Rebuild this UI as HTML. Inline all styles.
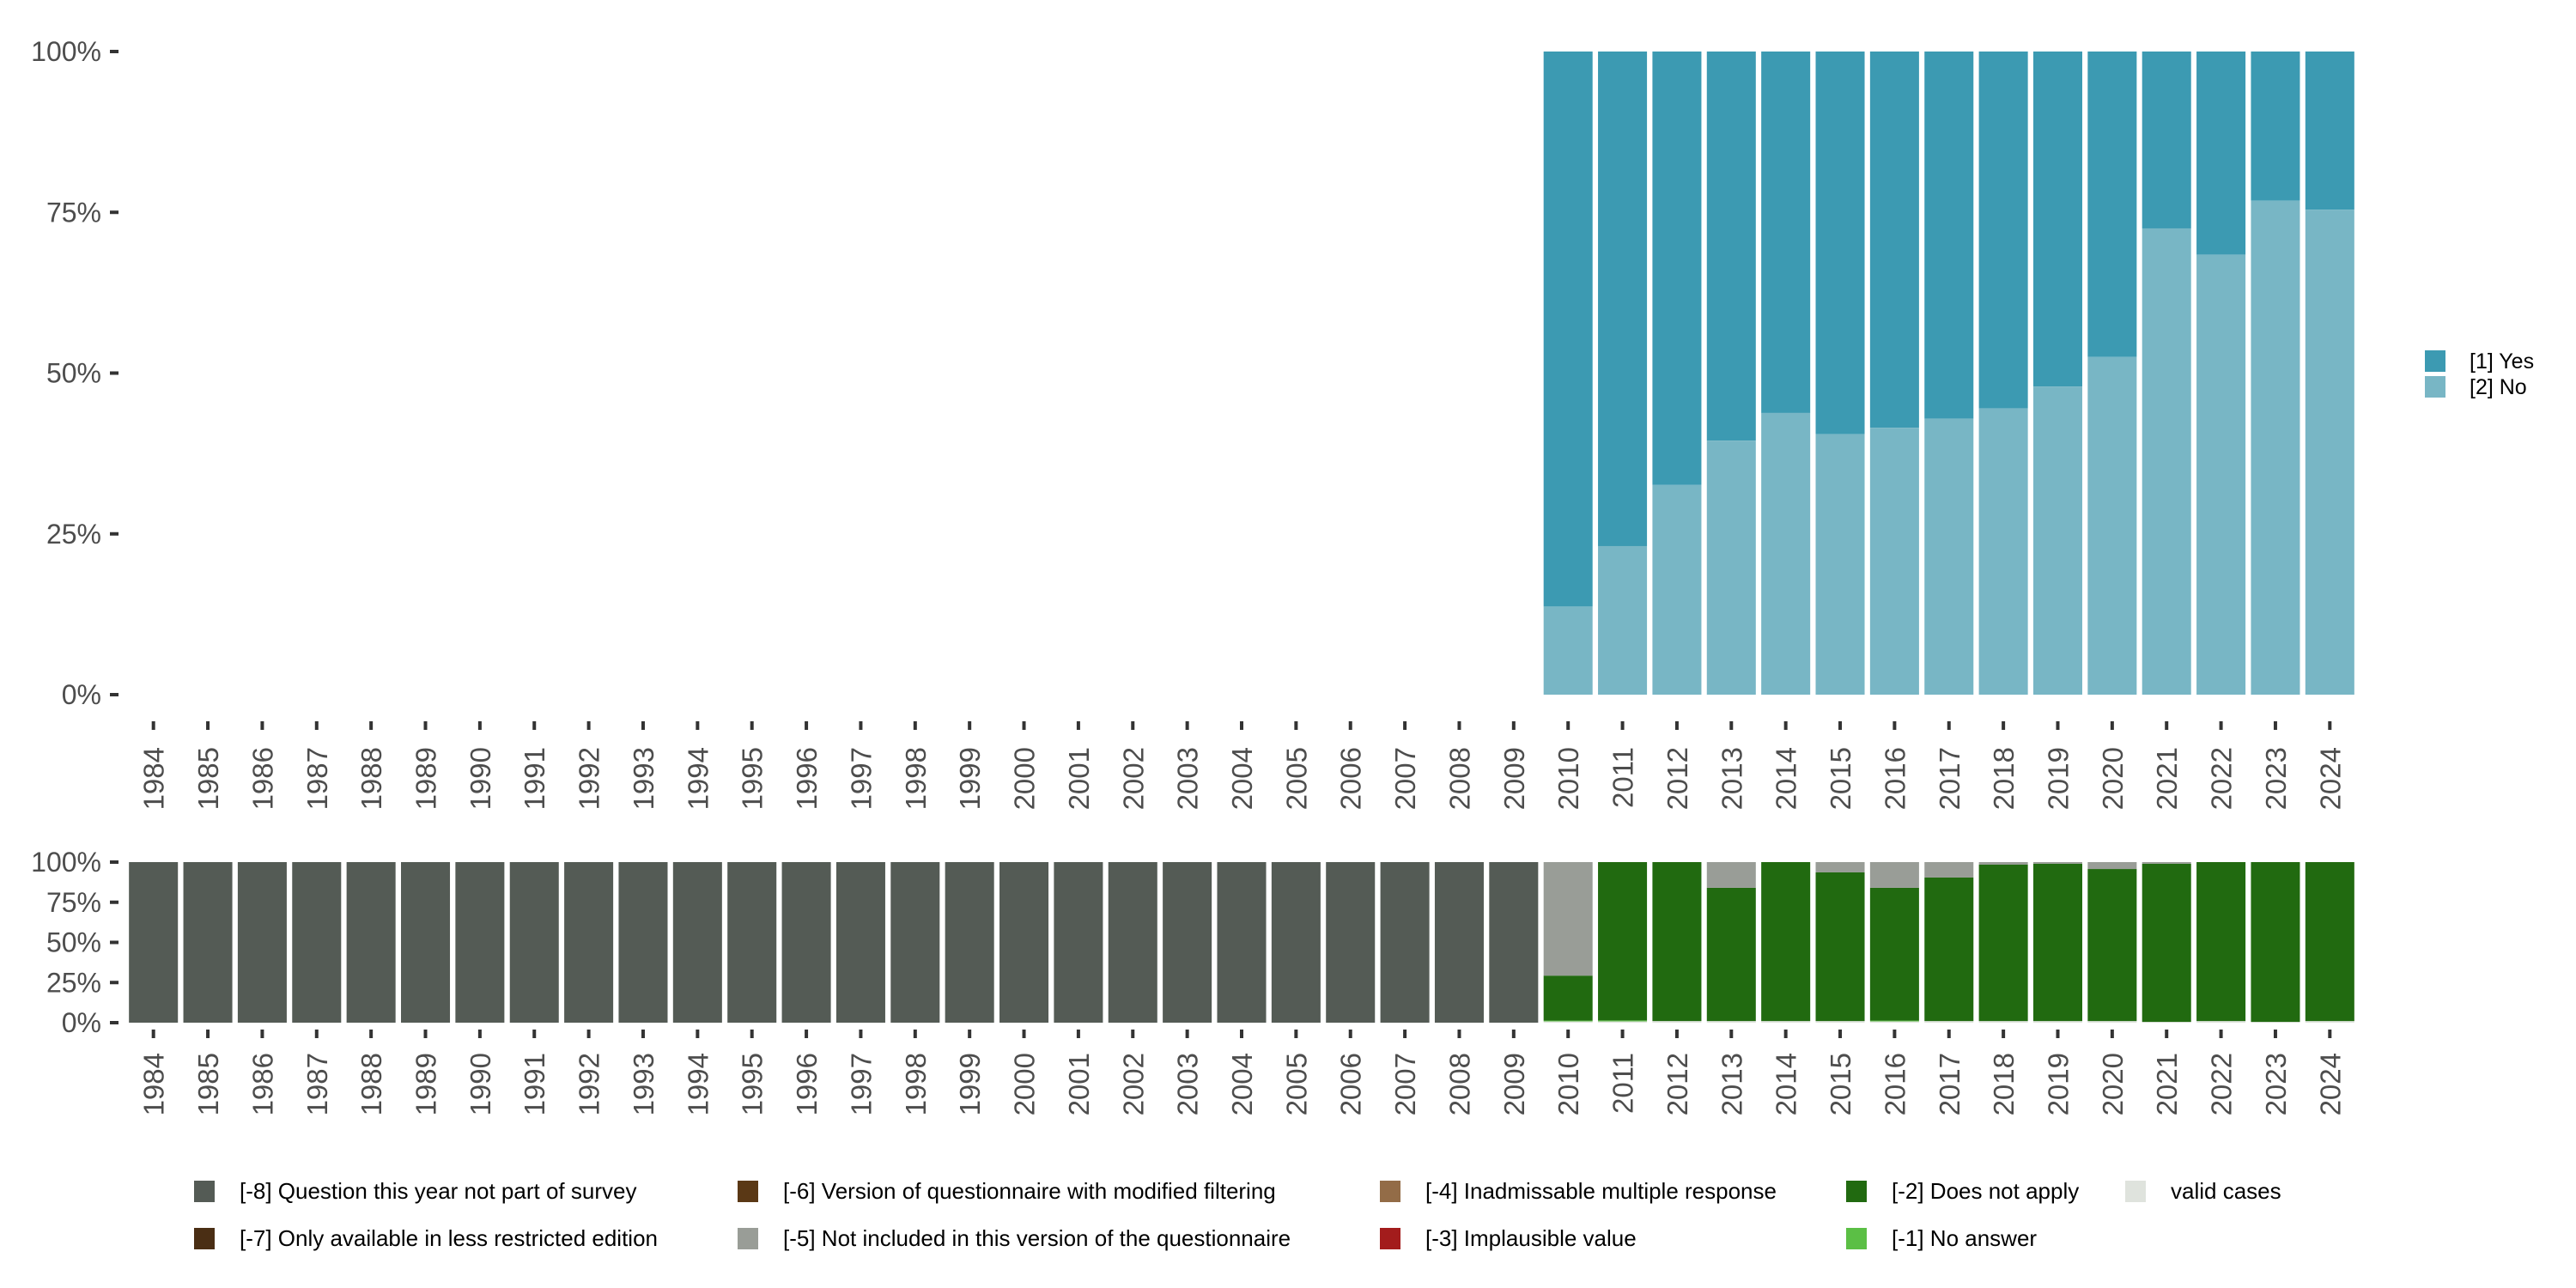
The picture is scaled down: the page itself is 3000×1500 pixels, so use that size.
<!DOCTYPE html>
<html><head><meta charset="utf-8"><style>
html,body{margin:0;padding:0;background:#fff;}
svg{display:block;font-family:"Liberation Sans",sans-serif;}
</style></head><body>
<svg id="chart" width="3000" height="1500" viewBox="0 0 3000 1500" xmlns="http://www.w3.org/2000/svg"></svg>
<script>
const years = [];
for (let y = 1984; y <= 2024; y++) years.push(String(y));
// top panel: share of "[2] No" for 2010..2024 (remaining is "[1] Yes")
const topYears = ["2010","2011","2012","2013","2014","2015","2016","2017","2018","2019","2020","2021","2022","2023","2024"];
const noShare = [0.137,0.231,0.326,0.395,0.438,0.405,0.415,0.429,0.445,0.479,0.525,0.725,0.684,0.768,0.754];
// bottom panel shares per year (1984..2024)
const missing8 = [1,1,1,1,1,1,1,1,1,1,1,1,1,1,1,1,1,1,1,1,1,1,1,1,1,1,0,0,0,0,0,0,0,0,0,0,0,0,0,0,0];
const missing5 = [0,0,0,0,0,0,0,0,0,0,0,0,0,0,0,0,0,0,0,0,0,0,0,0,0,0,0.707,0,0,0.16,0,0.064,0.16,0.096,0.016,0.01,0.043,0.01,0,0,0];
const noAnswer = [0,0,0,0,0,0,0,0,0,0,0,0,0,0,0,0,0,0,0,0,0,0,0,0,0,0,0.005,0.006,0,0,0,0,0.005,0,0,0,0,0,0,0,0];
const validCases=[0,0,0,0,0,0,0,0,0,0,0,0,0,0,0,0,0,0,0,0,0,0,0,0,0,0,0.008,0.008,0.01,0.01,0.01,0.01,0.008,0.01,0.01,0.01,0.01,0.005,0.01,0.005,0.01];
const yTicks = [0,0.25,0.5,0.75,1];
const yTickLabels = ["0%","25%","50%","75%","100%"];

const NS = "http://www.w3.org/2000/svg";
const svg = document.getElementById('chart');
function mk(tag, attrs, parent){const e=document.createElementNS(NS,tag);for(const k in attrs)e.setAttribute(k,attrs[k]);(parent||svg).appendChild(e);return e;}

const x0 = 147, x1 = 2745;
const band = (x1 - x0) / years.length;
const bw = band * 0.9;
function xBand(cat){return x0 + years.indexOf(cat) * band + (band - bw) / 2;}
function xCenter(cat){return x0 + years.indexOf(cat) * band + band / 2;}
const topY0 = 809, topY1 = 60;
function yTop(v){return topY0 - v * (topY0 - topY1);}
const botY0 = 1191, botY1 = 1004;
function yBot(v){return botY0 - v * (botY0 - botY1);}

const C = {yes:"#3c9ab2", no:"#78b6c5", m8:"#545b55", m7:"#4a2e14", m6:"#5a3815", m5:"#999d97", m4:"#936c47", m3:"#a31c1c", m2:"#216a10", m1:"#5bbf45", valid:"#dfe3dd"};

function yAxis(yf, prefix){
  yTicks.forEach((t,i)=>{
    const y = yf(t);
    const tl = mk('line',{x1:128,x2:138,y1:y,y2:y,stroke:'#333','stroke-width':4});
    
    
    const tx = mk('text',{x:118,y:y+11,'text-anchor':'end','font-size':32,fill:'#4d4d4d'});
    tx.textContent = yTickLabels[i];
    
    
  });
}
function xAxis(tickY, labelY, prefix){
  years.forEach(yr=>{
    const cx = xCenter(yr);
    const tl = mk('line',{x1:cx,x2:cx,y1:tickY,y2:tickY+10,stroke:'#333','stroke-width':4});
    
    
    const tx = mk('text',{x:0,y:0,'text-anchor':'end','font-size':33,fill:'#4d4d4d',transform:`translate(${cx+12},${labelY}) rotate(-90)`});
    tx.textContent = yr;
    
    
  });
}

// top panel
yAxis(yTop,'top');
topYears.forEach((yr,i)=>{
  const x = xBand(yr);
  const n = noShare[i];
  const r1 = mk('rect',{x:x,y:yTop(1),width:bw,height:yTop(n)-yTop(1),fill:C.yes});
  
  
  const r2 = mk('rect',{x:x,y:yTop(n),width:bw,height:yTop(0)-yTop(n),fill:C.no});
  
  
});
xAxis(840, 870, 'top');

// bottom panel
yAxis(yBot,'bottom');
years.forEach((yr,i)=>{
  const x = xBand(yr);
  const segs = [["valid",validCases[i]],["m1",noAnswer[i]]];
  const m8 = missing8[i], m5 = missing5[i];
  const rest = 1 - m8 - m5 - validCases[i] - noAnswer[i];
  segs.push(["m2", m8>0?0:rest]);
  segs.push(["m5", m5]);
  segs.push(["m8", m8]);
  let acc = 0;
  segs.forEach(([k,v])=>{
    if (v<=0) return;
    const r = mk('rect',{x:x,y:yBot(acc+v),width:bw,height:yBot(acc)-yBot(acc+v),fill:C[k]});
    
    
    acc += v;
  });
});
xAxis(1199, 1226, 'bottom');

// top legend
[["[1] Yes",C.yes,408],["[2] No",C.no,438]].forEach(([lab,col,y])=>{
  const g = mk('g',{});
  
  
  mk('rect',{x:2824,y:y,width:24,height:25,fill:col},g);
  const t = mk('text',{x:2876,y:y+21,'font-size':25,fill:'#000'},g);
  t.textContent = lab;
});

// bottom legend
const legItems = [
  ["[-8] Question this year not part of survey",C.m8,226,1375],
  ["[-7] Only available in less restricted edition",C.m7,226,1430],
  ["[-6] Version of questionnaire with modified filtering",C.m6,859,1375],
  ["[-5] Not included in this version of the questionnaire",C.m5,859,1430],
  ["[-4] Inadmissable multiple response",C.m4,1607,1375],
  ["[-3] Implausible value",C.m3,1607,1430],
  ["[-2] Does not apply",C.m2,2150,1375],
  ["[-1] No answer",C.m1,2150,1430],
  ["valid cases",C.valid,2475,1375]
];
legItems.forEach(([lab,col,x,y])=>{
  const g = mk('g',{});
  
  
  mk('rect',{x:x,y:y,width:24,height:25,fill:col},g);
  const t = mk('text',{x:x+53,y:y+21,'font-size':26,fill:'#000'},g);
  t.textContent = lab;
});
</script>
</body></html>
